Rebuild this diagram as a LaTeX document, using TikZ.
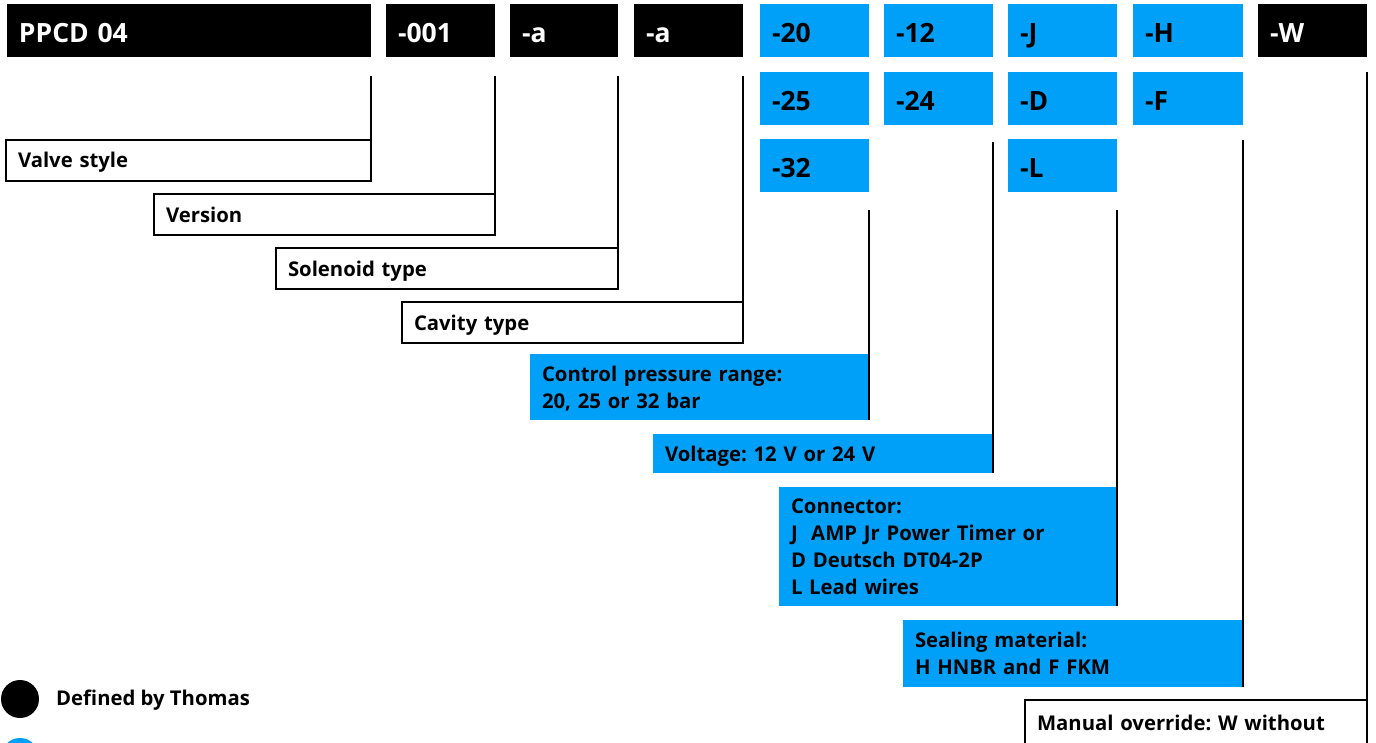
\documentclass[tikz,border=0pt]{standalone}
\usepackage{fontspec}
\setmainfont{Open Sans}
\frenchspacing
\definecolor{pblue}{RGB}{0,160,248}
\begin{document}
\begin{tikzpicture}[x=1pt,y=-1pt,
  code/.style={anchor=north west, outer sep=0pt, inner ysep=0pt, inner xsep=12pt, minimum height=53pt,
    text width=85pt, text height=23pt, text depth=0pt, align=left, font=\fontsize{26.5}{30}\selectfont\bfseries},
  kblack/.style={code, fill=black, text=white},
  kblue/.style={code, fill=pblue, text=black},
  lbl/.style={anchor=north west, outer sep=0pt, inner ysep=0pt, inner xsep=12pt, align=left,
    text depth=0pt, font=\frenchspacing\fontsize{20.3}{27}\selectfont\bfseries},
  lwhite/.style={lbl, draw=black, line width=2pt, fill=white},
  lblue/.style={lbl, fill=pblue},
  conn/.style={draw=black, line width=2pt},
  dot/.style={circle, minimum size=38pt, inner sep=0pt}]
\clip (0,0) rectangle (1376,742);
% top row
\node[kblack, text width=340pt] (ppcd) at (7,4) {PPCD 04};
\node[kblack] (c001) at (386,4) {-001};
\node[kblack, text width=84pt] (ca1) at (510,4) {-a};
\node[kblack] (ca2) at (634,4) {-a};
\node[kblue] (c20) at (760,4) {-20};
\node[kblue] (c12) at (884,4) {-12};
\node[kblue] (cJ) at (1008,4) {-J};
\node[kblue, text width=86pt] (cH) at (1133,4) {-H};
\node[kblack] (cW) at (1258,4) {-W};
% second row
\node[kblue] (c25) at (760,72) {-25};
\node[kblue] (c24) at (884,72) {-24};
\node[kblue] (cD) at (1008,72) {-D};
\node[kblue, text width=86pt] (cF) at (1133,72) {-F};
% third row
\node[kblue] (c32) at (760,139) {-32};
\node[kblue] (cL) at (1008,139) {-L};
% label boxes
\node[lwhite, minimum height=41pt, text width=341pt] (valve) at (6,139.5) {Valve style};
\node[lwhite, minimum height=41pt, text width=317pt] (version) at (154,194) {Version};
\node[lwhite, minimum height=41pt, text width=318pt] (solenoid) at (276,248) {Solenoid type};
\node[lwhite, minimum height=41pt, text width=317pt] (cavity) at (402,302) {Cavity type};
\node[lblue, minimum height=66pt, text width=315pt, text depth=27pt] (ctrl) at (530,354) {Control pressure range:\\20, 25 or 32 bar};
\node[lblue, minimum height=39pt, text width=316pt] (volt) at (653,434) {Voltage: 12 V or 24 V};
\node[lblue, minimum height=119pt, text width=314pt, text depth=81pt] (connb) at (779,487) {Connector:\\J\ \ AMP Jr Power Timer or\\D Deutsch DT04-2P\\L Lead wires};
\node[lblue, minimum height=67pt, text width=316pt, text depth=27pt] (seal) at (903,620) {Sealing material:\\H HNBR and F FKM};
\node[lwhite, minimum height=46pt, text width=318pt] (manual) at (1025,700) {Manual override: W without};
% connectors
\draw[conn] ([yshift=-19pt]ppcd.south east) -- (valve.north east);
\draw[conn] ([yshift=-19pt]c001.south east) -- (version.north east);
\draw[conn] ([yshift=-19pt]ca1.south east) -- (solenoid.north east);
\draw[conn] ([yshift=-19pt]ca2.south east) -- (cavity.north east);
\draw[conn] ([yshift=-18pt]c32.south east) -- (ctrl.south east);
\draw[conn] ([yshift=-17pt]c24.south east) -- (volt.south east);
\draw[conn] ([yshift=-18pt]cL.south east) -- (connb.south east);
\draw[conn] ([yshift=-15pt]cF.south east) -- (seal.south east);
\draw[conn] ([yshift=-15pt]cW.south east) -- (manual.north east);
% legend
\node[dot, fill=black] (kdot) at (20,699) {};
\node[anchor=west, inner sep=0pt, font=\fontsize{20.3}{24}\selectfont\bfseries] (ktext) at (56,700) {Defined by Thomas};
\node[dot, fill=pblue] (bdot) at (20,757) {};
\end{tikzpicture}
\end{document}
